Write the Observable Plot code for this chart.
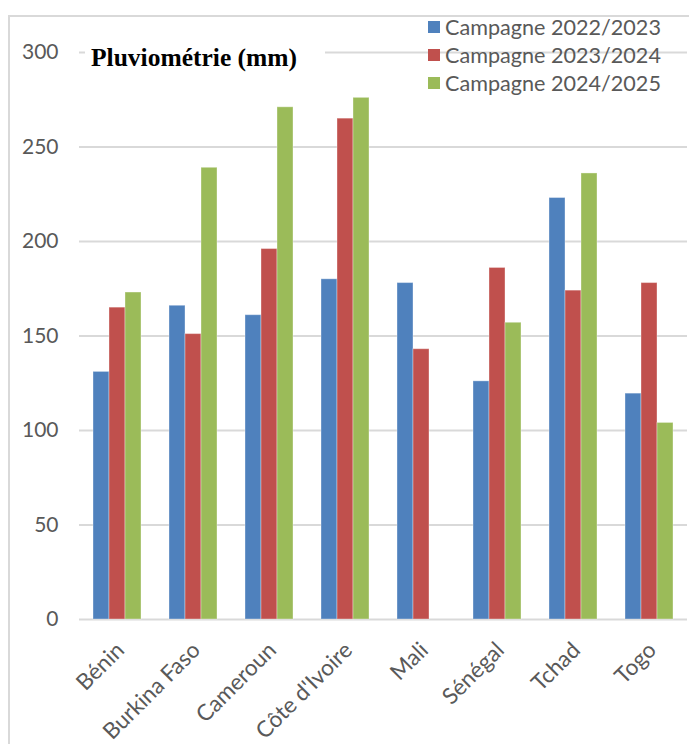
<!DOCTYPE html>
<html><head><meta charset="utf-8">
<script src="https://cdn.jsdelivr.net/npm/d3@7"></script>
<script src="https://cdn.jsdelivr.net/npm/@observablehq/plot@0.6"></script>
<style>
body{margin:0;background:#fff;}
#wrap{position:relative;width:689px;height:744px;overflow:hidden;background:#fff;}
#frame{position:absolute;left:8px;top:15px;width:720px;height:780px;border:2px solid #d9d9d9;box-sizing:border-box;pointer-events:none;}
#chart{position:absolute;left:0;top:0;}
#title{position:absolute;left:85px;top:43px;padding:0 28px 0 6px;background:#fff;font-family:"Liberation Serif";font-weight:bold;font-size:25.5px;line-height:30px;color:#000;white-space:nowrap;}
#legend{position:absolute;left:428px;top:13px;font-family:Lato;font-size:21.6px;color:#595959;line-height:28px;padding-right:4px;}
#legend .it{display:flex;align-items:center;}
#legend .sw{width:12px;height:12px;margin-right:5px;}
</style></head>
<body>
<div id="wrap">
  <div id="chart"></div>
  <div id="frame"></div>
  <div id="title">Pluviométrie (mm)</div>
  <div id="legend"></div>
</div>
<script>
const countries = ["Bénin","Burkina Faso","Cameroun","Côte d'Ivoire","Mali","Sénégal","Tchad","Togo"];
const series = ["Campagne 2022/2023","Campagne 2023/2024","Campagne 2024/2025"];
const v2022 = [131,166,161,180,178,126,223,119.5];
const v2023 = [165,151,196,265,143,186,174,178];
const v2024 = [173,239,271,276,null,157,236,104];
const colors = ["#4f81bd","#c0504d","#9bbb59"];
const yTicks = [0,50,100,150,200,250,300];

const values = [v2022, v2023, v2024];
const data = [];
countries.forEach((c, i) => {
  series.forEach((s, j) => {
    const v = values[j][i];
    if (v != null) data.push({country: c, series: s, value: v});
  });
});

const chart = Plot.plot({
  width: 689,
  height: 744,
  marginLeft: 78,
  marginRight: 1,
  marginTop: 52,
  marginBottom: 125,
  style: {fontFamily: "Lato", fontSize: "21px", color: "#595959", background: "transparent"},
  fx: {domain: countries, padding: 0, label: null},
  x: {domain: series, axis: null, paddingInner: 0, paddingOuter: 0.75},
  y: {domain: [0, 300], label: null},
  color: {domain: series, range: colors},
  marks: [
    Plot.gridY(yTicks, {stroke: "#d9d9d9", strokeOpacity: 1, strokeWidth: 2}),
    Plot.axisY(yTicks, {tickSize: 0, tickPadding: 21, fontSize: 21, label: null}),
    Plot.axisFx({anchor: "bottom", tickRotate: -45, tickSize: 0, tickPadding: 27, fontSize: 22.5, label: null, dx: 3}),
    Plot.barY(data, {fx: "country", x: "series", y: "value", fill: "series", stroke: "#ffffff", strokeOpacity: 0.35, strokeWidth: 1})
  ]
});
document.getElementById("chart").appendChild(chart);

const legend = document.getElementById("legend");
series.forEach((s, j) => {
  const it = document.createElement("div");
  it.className = "it";
  const sw = document.createElement("span");
  sw.className = "sw";
  sw.style.background = colors[j];
  const t = document.createElement("span");
  t.textContent = s;
  it.appendChild(sw); it.appendChild(t);
  legend.appendChild(it);
});
</script>
</body></html>
